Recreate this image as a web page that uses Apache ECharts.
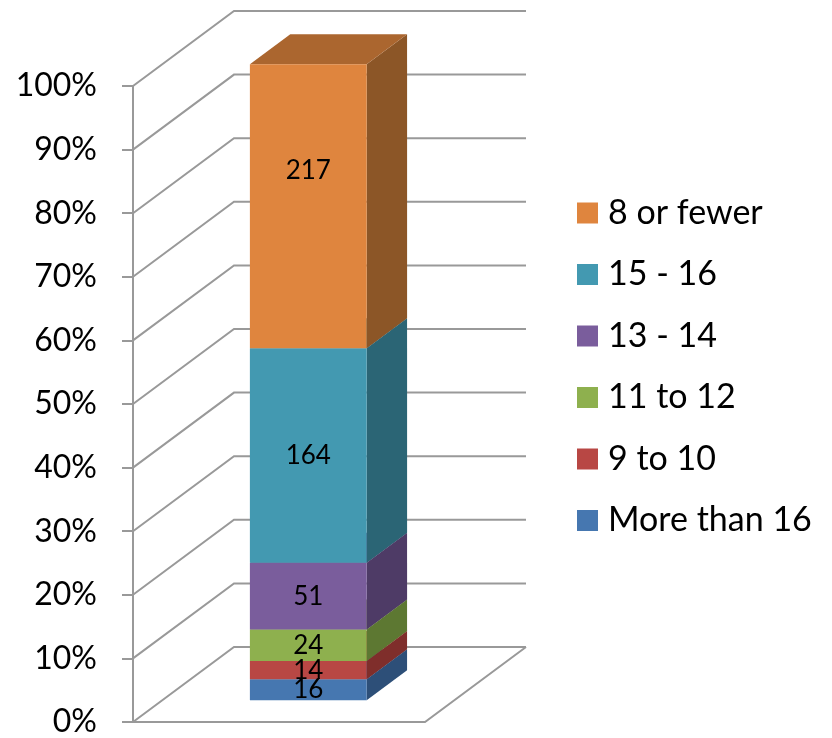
<!DOCTYPE html>
<html>
<head>
<meta charset="utf-8">
<script src="https://cdn.jsdelivr.net/npm/echarts@6/dist/echarts.min.js"></script>
<style>
  html, body { margin: 0; padding: 0; background: #fff; }
  #chart { width: 832px; height: 738px; }
</style>
</head>
<body>
<div id="chart"></div>
<script>
// data, bottom of the stack first
const categories = ['Total']
const seriesNames = ['More than 16', '9 to 10', '11 to 12', '13 - 14', '15 - 16', '8 or fewer']
const seriesValues = [16, 14, 24, 51, 164, 217]
const yTicks = [0, 10, 20, 30, 40, 50, 60, 70, 80, 90, 100]
const legendOrder = ['8 or fewer', '15 - 16', '13 - 14', '11 to 12', '9 to 10', 'More than 16']

// styles
const frontColors = ['#4677B0', '#B84744', '#8EB04E', '#7A5D9C', '#4399B1', '#DF853E']
const sideColors = ['#2D4F78', '#7F2E2B', '#5D7832', '#4E3B66', '#2B6575', '#8C5627']
const topColors = ['#3A6394', '#9C3A37', '#76933F', '#634B80', '#367F93', '#AB662F']
const labelShift = [0, 0, 0, 0, 0, -36] // excel nudges the top label upwards
const FONT = 'Lato'
const GRID_COLOR = '#999999'
// 3d depth of the plot box (px) and where the bar sits in it
const DEPTH_X = 101
const DEPTH_Y = -75
const BAR_FRONT = 0.29
const BAR_BACK = 0.69
const BAR_RATIO = 0.4

const total = seriesValues.reduce((a, b) => a + b, 0)
const cumStart = []
let acc = 0
seriesValues.forEach(v => { cumStart.push(acc); acc += v })

const chart = echarts.init(document.getElementById('chart'))

const wallSeries = {
  type: 'custom',
  name: 'walls',
  silent: true,
  z: 1,
  data: yTicks.map(v => [0, v]),
  renderItem(params, api) {
    const cs = params.coordSys
    const y = api.coord([0, api.value(1)])[1]
    const x0 = cs.x
    const x1 = cs.x + cs.width
    const children = [{
      type: 'polyline',
      shape: { points: [[x0, y], [x0 + DEPTH_X, y + DEPTH_Y], [x1 + DEPTH_X, y + DEPTH_Y]] },
      style: { stroke: GRID_COLOR, lineWidth: 2, fill: null }
    }]
    if (api.value(1) === 0) {
      children.push({
        type: 'polyline',
        shape: { points: [[x0, y], [x1, y], [x1 + DEPTH_X, y + DEPTH_Y]] },
        style: { stroke: GRID_COLOR, lineWidth: 2, fill: null }
      })
    }
    return { type: 'group', children }
  }
}

const barSeries = seriesNames.map((name, i) => ({
  type: 'custom',
  name: name,
  z: 2,
  itemStyle: { color: frontColors[i] },
  data: [[0, seriesValues[i]]],
  renderItem(params, api) {
    const startPct = cumStart[i] / total * 100
    const endPct = (cumStart[i] + api.value(1)) / total * 100
    const pb = api.coord([api.value(0), startPct])
    const pt = api.coord([api.value(0), endPct])
    const bandW = api.size([1, 0])[0]
    const half = bandW * BAR_RATIO / 2
    const fx = BAR_FRONT * DEPTH_X
    const fy = BAR_FRONT * DEPTH_Y
    const dx = (BAR_BACK - BAR_FRONT) * DEPTH_X
    const dy = (BAR_BACK - BAR_FRONT) * DEPTH_Y
    const xl = pb[0] + fx - half
    const xr = pb[0] + fx + half
    const y0 = pb[1] + fy
    const y1 = pt[1] + fy
    return {
      type: 'group',
      children: [
        {
          type: 'polygon',
          shape: { points: [[xr, y0], [xr + dx, y0 + dy], [xr + dx, y1 + dy], [xr, y1]] },
          style: { fill: sideColors[i] }
        },
        {
          type: 'polygon',
          shape: { points: [[xl, y1], [xr, y1], [xr + dx, y1 + dy], [xl + dx, y1 + dy]] },
          style: { fill: topColors[i] }
        },
        {
          type: 'rect',
          shape: { x: xl, y: y1, width: xr - xl, height: y0 - y1 },
          style: { fill: frontColors[i] }
        },
        {
          type: 'text',
          z2: 100,
          style: {
            x: (xl + xr) / 2,
            y: (y0 + y1) / 2 + labelShift[i],
            text: String(api.value(1)),
            align: 'center',
            verticalAlign: 'middle',
            fill: '#000',
            font: '26px ' + FONT
          }
        }
      ]
    }
  }
}))

chart.setOption({
  animation: false,
  grid: { left: 133, right: 407, top: 86, bottom: 15 },
  legend: {
    data: legendOrder,
    orient: 'vertical',
    left: 577,
    top: 196,
    padding: 0,
    icon: 'rect',
    itemWidth: 21,
    itemHeight: 21,
    itemGap: 27.5,
    textStyle: { fontFamily: FONT, fontSize: 34, color: '#000', padding: [0, 0, 0, 5] }
  },
  xAxis: {
    type: 'category',
    data: categories,
    show: false
  },
  yAxis: {
    type: 'value',
    min: 0,
    max: 100,
    interval: 10,
    axisLine: { show: true, lineStyle: { color: GRID_COLOR, width: 2 } },
    axisTick: { show: true, length: 11, lineStyle: { color: GRID_COLOR, width: 2 } },
    splitLine: { show: false },
    axisLabel: {
      formatter: '{value}%',
      fontFamily: FONT,
      fontSize: 32,
      color: '#000',
      margin: 36
    }
  },
  series: [wallSeries].concat(barSeries)
})
</script>
</body>
</html>
